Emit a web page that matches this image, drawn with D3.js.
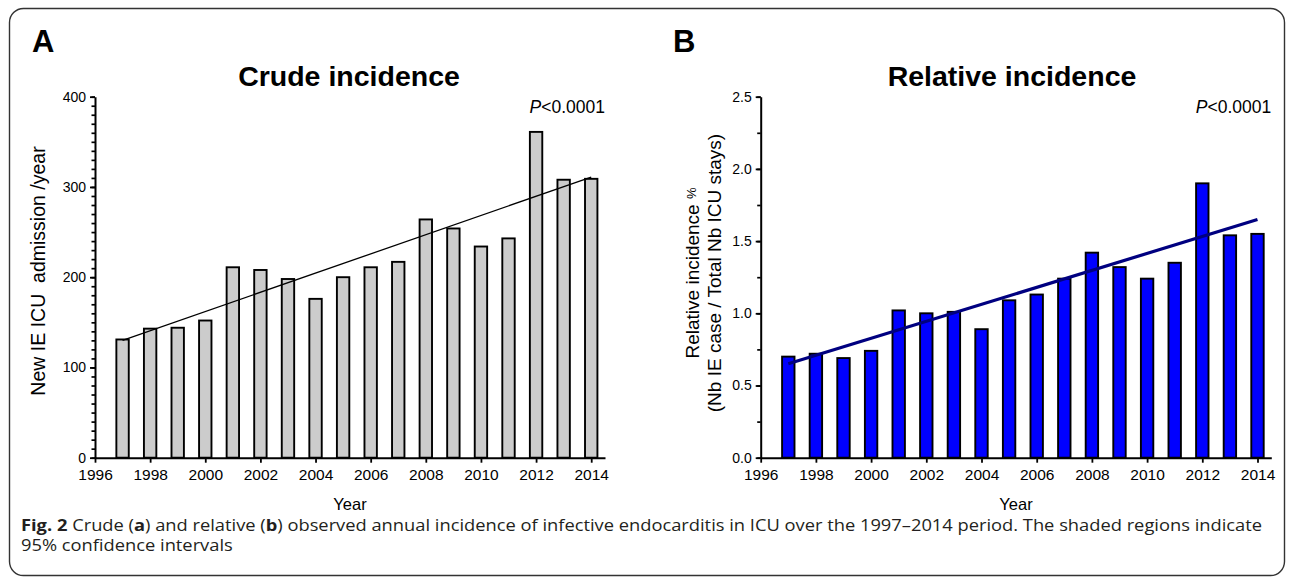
<!DOCTYPE html>
<html>
<head>
<meta charset="utf-8">
<script src="https://cdn.jsdelivr.net/npm/d3@7"></script>
<style>
  html, body { margin: 0; padding: 0; background: #fff; }
  svg { display: block; }
  text.sans { font-family: "Liberation Sans", Arial, Helvetica, sans-serif; }
  .tick text { font-family: "Liberation Sans", Arial, Helvetica, sans-serif; }
  text.caption { font-family: "Open Sans", "Noto Sans", sans-serif; }
</style>
</head>
<body>
<svg id="chart" width="1295" height="582"></svg>
<script>
// ---------- data ----------
const years = [1997, 1998, 1999, 2000, 2001, 2002, 2003, 2004, 2005, 2006, 2007, 2008, 2009, 2010, 2011, 2012, 2013, 2014];
const crudeValues = [131, 143, 144, 152, 211, 208, 198, 176, 200, 211, 217, 264, 254, 234, 243, 361, 308, 309];
const relativeValues = [0.70, 0.72, 0.69, 0.74, 1.02, 1.00, 1.01, 0.89, 1.09, 1.13, 1.24, 1.42, 1.32, 1.24, 1.35, 1.90, 1.54, 1.55];
const trendCrudeYears = [1997, 2014];
const trendCrudeValues = [130, 311];
const trendRelativeYears = [1997, 2014];
const trendRelativeValues = [0.65, 1.65];
const xTickValues = [1996, 1998, 2000, 2002, 2004, 2006, 2008, 2010, 2012, 2014];
const crudeTicks = [0, 100, 200, 300, 400];
const crudeMinorTicks = d3.range(0, 401, 10);
const relativeTicks = [0, 0.5, 1.0, 1.5, 2.0, 2.5];
const relativeMinorTicks = d3.range(0, 2.51, 0.25);

const svg = d3.select("#chart");

// frame
svg.append("rect")
  .attr("x", 9.5).attr("y", 8.5).attr("width", 1275).attr("height", 567)
  .attr("rx", 14).attr("ry", 14)
  .attr("fill", "none").attr("stroke", "#333").attr("stroke-width", 1.4);

function drawPanel(opts) {
  const g = svg.append("g");
  const x = d3.scaleLinear().domain([1996, 2014.5]).range([opts.x0, opts.x1]);
  const y = d3.scaleLinear().domain(opts.yDomain).range([457.7, 96.7]);
  const barHalf = 0.225;

  // bars
  g.selectAll("rect.bar").data(years.map((yr, i) => ({ yr, v: opts.values[i] })))
    .enter().append("rect")
    .attr("x", d => x(d.yr - barHalf))
    .attr("width", d => x(d.yr + barHalf) - x(d.yr - barHalf))
    .attr("y", d => y(d.v))
    .attr("height", d => y(0) - y(d.v))
    .attr("fill", opts.fill)
    .attr("stroke", "#000")
    .attr("stroke-width", 1.9);

  // minor y ticks
  g.append("g")
    .attr("transform", `translate(${opts.x0},0)`)
    .call(d3.axisLeft(y).tickValues(opts.minorTicks).tickSize(3.5).tickFormat(""))
    .call(s => s.select(".domain").remove())
    .call(s => s.selectAll("line").attr("stroke-width", 1.7).attr("stroke", "#000"));

  // major y axis
  const ya = g.append("g")
    .attr("transform", `translate(${opts.x0},0)`)
    .call(d3.axisLeft(y).tickValues(opts.ticks).tickSize(5).tickSizeOuter(0).tickPadding(4).tickFormat(opts.fmt));
  ya.select(".domain").attr("stroke-width", 2);
  ya.selectAll("line").attr("stroke-width", 1.8);
  ya.selectAll("text").attr("font-size", 14).attr("fill", "#000");

  // x axis
  const xa = g.append("g")
    .attr("transform", `translate(0,${y(0)})`)
    .call(d3.axisBottom(x).tickValues(xTickValues).tickSize(5).tickSizeOuter(0).tickPadding(6).tickFormat(d3.format("d")));
  xa.select(".domain").attr("stroke-width", 2);
  xa.selectAll("line").attr("stroke-width", 1.8);
  xa.selectAll("text").attr("font-size", 15.5).attr("fill", "#000");

  // trend line
  const line = d3.line().x(d => x(d[0])).y(d => y(d[1]));
  g.append("path")
    .datum(opts.trendYears.map((yr, i) => [yr, opts.trendValues[i]]))
    .attr("d", line)
    .attr("fill", "none")
    .attr("stroke", opts.trendColor)
    .attr("stroke-width", opts.trendWidth);

  // panel letter
  g.append("text").attr("class", "sans").attr("x", opts.letterX).attr("y", 52)
    .attr("font-size", 31).attr("font-weight", "bold").text(opts.letter);
  // title
  g.append("text").attr("class", "sans").attr("x", opts.titleX).attr("y", 86)
    .attr("text-anchor", "middle").attr("font-size", 28.5).attr("font-weight", "bold").text(opts.title);
  // p value
  const p = g.append("text").attr("class", "sans").attr("x", opts.x1).attr("y", 113)
    .attr("text-anchor", "end").attr("font-size", 17.5);
  p.append("tspan").attr("font-style", "italic").text("P");
  p.append("tspan").text("<0.0001");
  // x title
  g.append("text").attr("class", "sans").attr("x", (opts.x0 + opts.x1) / 2).attr("y", 510)
    .attr("text-anchor", "middle").attr("font-size", 16.5).text("Year");
  return { x, y, g };
}

const A = drawPanel({
  x0: 95, x1: 605, yDomain: [0, 400], values: crudeValues, fill: "#cccccc",
  ticks: crudeTicks, minorTicks: crudeMinorTicks, fmt: d3.format("d"),
  trendYears: trendCrudeYears, trendValues: trendCrudeValues, trendColor: "#000", trendWidth: 1.3,
  letter: "A", letterX: 32, title: "Crude incidence", titleX: 349
});

const B = drawPanel({
  x0: 760.7, x1: 1271.3, yDomain: [0, 2.5], values: relativeValues, fill: "#0000ff",
  ticks: relativeTicks, minorTicks: relativeMinorTicks, fmt: d3.format(".1f"),
  trendYears: trendRelativeYears, trendValues: trendRelativeValues, trendColor: "#000080", trendWidth: 3.2,
  letter: "B", letterX: 673, title: "Relative incidence", titleX: 1012
});

// y titles
A.g.append("text").attr("class", "sans")
  .attr("transform", "translate(45,271) rotate(-90)")
  .attr("text-anchor", "middle").attr("font-size", 19.5)
  .attr("xml:space", "preserve")
  .text("New IE ICU  admission /year");

const bt1 = B.g.append("text").attr("class", "sans")
  .attr("transform", "translate(699,273) rotate(-90)")
  .attr("text-anchor", "middle").attr("font-size", 19);
bt1.append("tspan").text("Relative incidence ");
bt1.append("tspan").attr("font-size", 13).attr("dy", -3).text("%");
B.g.append("text").attr("class", "sans")
  .attr("transform", "translate(721,273) rotate(-90)")
  .attr("text-anchor", "middle").attr("font-size", 19)
  .text("(Nb IE case / Total Nb ICU stays)");

// caption
const c1 = svg.append("text").attr("class", "caption").attr("x", 21).attr("y", 531)
  .attr("font-size", 16).attr("fill", "#231f20");
c1.append("tspan").attr("font-weight", "bold").text("Fig. 2");
c1.append("tspan").text(" Crude (");
c1.append("tspan").attr("font-weight", "bold").text("a");
c1.append("tspan").text(") and relative (");
c1.append("tspan").attr("font-weight", "bold").text("b");
c1.append("tspan").text(") observed annual incidence of infective endocarditis in ICU over the 1997\u20132014 period. The shaded regions indicate");
const c2 = svg.append("text").attr("class", "caption").attr("x", 21).attr("y", 551)
  .attr("font-size", 16).attr("fill", "#231f20")
  .text("95% confidence intervals");
const n1 = c1.node().getComputedTextLength();
const n2 = c2.node().getComputedTextLength();
const k = 1241 / n1;
c1.attr("textLength", 1241).attr("lengthAdjust", "spacingAndGlyphs");
c2.attr("textLength", n2 * k).attr("lengthAdjust", "spacingAndGlyphs");
</script>
</body>
</html>
